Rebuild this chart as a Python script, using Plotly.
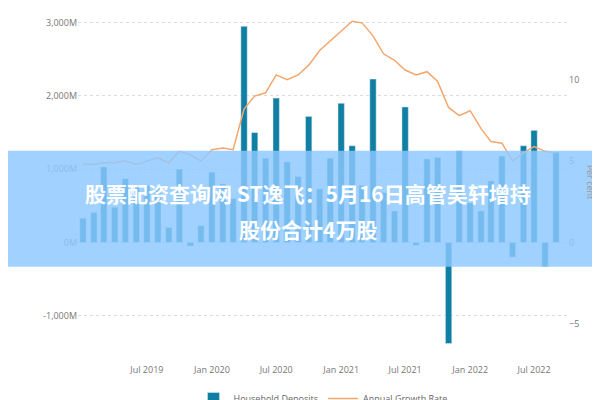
import pandas as pd
import plotly.graph_objects as go

months = pd.date_range("2019-01-01", periods=45, freq="MS")
deposits = [330, 410, 1030, 480, 870, 780, 780, 750, 205, 1000, -50, 230, 960, 800, 600,
            2950, 1500, 1150, 1970, 1100, 900, 1720, 730, 1150, 1900, 1320, 780, 2230, 680, 430,
            1850, -40, 1140, 1160, -1380, 1250, 540, 430, 840, 1180, -200, 1320, 1530, -330, 1230]
growth = [4.8, 4.8, 4.9, 4.9, 5.0, 4.8, 5.0, 5.2, 4.9, 5.6, 5.4, 5.0, 5.7, 5.8, 5.7,
          8.2, 9.0, 9.2, 10.3, 10.0, 10.3, 10.9, 11.8, 12.4, 13.0, 13.6, 13.5, 12.7, 11.6, 11.2,
          10.6, 10.3, 10.5, 9.9, 8.3, 7.8, 8.1, 7.0, 6.2, 6.1, 5.0, 5.5, 5.9, 5.6, 5.5]
left_ticks = [-1000, 0, 1000, 2000, 3000]
left_labels = ["-1,000M", "0M", "1,000M", "2,000M", "3,000M"]
right_ticks = [-5, 0, 5, 10]
x_ticks = ["2019-07-01", "2020-01-01", "2020-07-01", "2021-01-01", "2021-07-01", "2022-01-01", "2022-07-01"]
x_labels = ["Jul 2019", "Jan 2020", "Jul 2020", "Jan 2021", "Jul 2021", "Jan 2022", "Jul 2022"]
title1 = "股票配资查询网 ST逸飞：5月16日高管吴轩增持"
title2 = "股份合计4万股"

fig = go.Figure()
fig.add_trace(go.Bar(x=months, y=deposits, name="Household Deposits",
                     marker_color="#0f7fa3", width=1000*3600*24*18))
fig.add_trace(go.Scatter(x=months, y=growth, name="Annual Growth Rate", yaxis="y2",
                         mode="lines", line=dict(color="#f5a66e", width=1.5)))
tf = dict(family="Open Sans", size=9, color="#777")
fig.update_layout(
    width=600, height=400, margin=dict(l=70, r=40, t=11, b=63, autoexpand=False),
    plot_bgcolor="white", paper_bgcolor="white",
    xaxis=dict(tickvals=x_ticks, ticktext=x_labels, tickfont=tf, showgrid=False,
               range=["2018-12-18", "2022-10-05"], ticklen=0, ticklabelstandoff=18),
    yaxis=dict(range=[-1400, 3050], tickvals=left_ticks, ticktext=left_labels, tickfont=tf,
               gridcolor="#ddd", griddash="dot", zeroline=False),
    yaxis2=dict(range=[-1400/222, 3050/222], overlaying="y", side="right", tickvals=right_ticks,
                tickfont=tf, showgrid=False, zeroline=False),
    legend=dict(orientation="h", x=0.5, xanchor="center", yref="container", y=0.06, yanchor="top",
                font=dict(family="Open Sans", size=9, color="#666"), itemwidth=30),
    showlegend=True,
)
fig.add_annotation(text="Per cent", xref="paper", yref="paper", x=1.065, y=0.5, textangle=90,
                   showarrow=False, font=dict(family="Open Sans", size=9, color="#999"))
fig.add_shape(type="rect", xref="paper", yref="paper", x0=-0.15, x1=1.09, y0=0.24, y1=0.596,
              fillcolor="rgba(140,200,255,0.82)", line_width=0, layer="above")
for t, y in [(title1, 0.465), (title2, 0.357)]:
    fig.add_annotation(text="<b>" + t + "</b>", xref="paper", yref="paper", x=0.469, y=y, showarrow=False,
                       font=dict(family="Noto Sans CJK SC", size=21, color="white"))
fig.write_html("out.html")
